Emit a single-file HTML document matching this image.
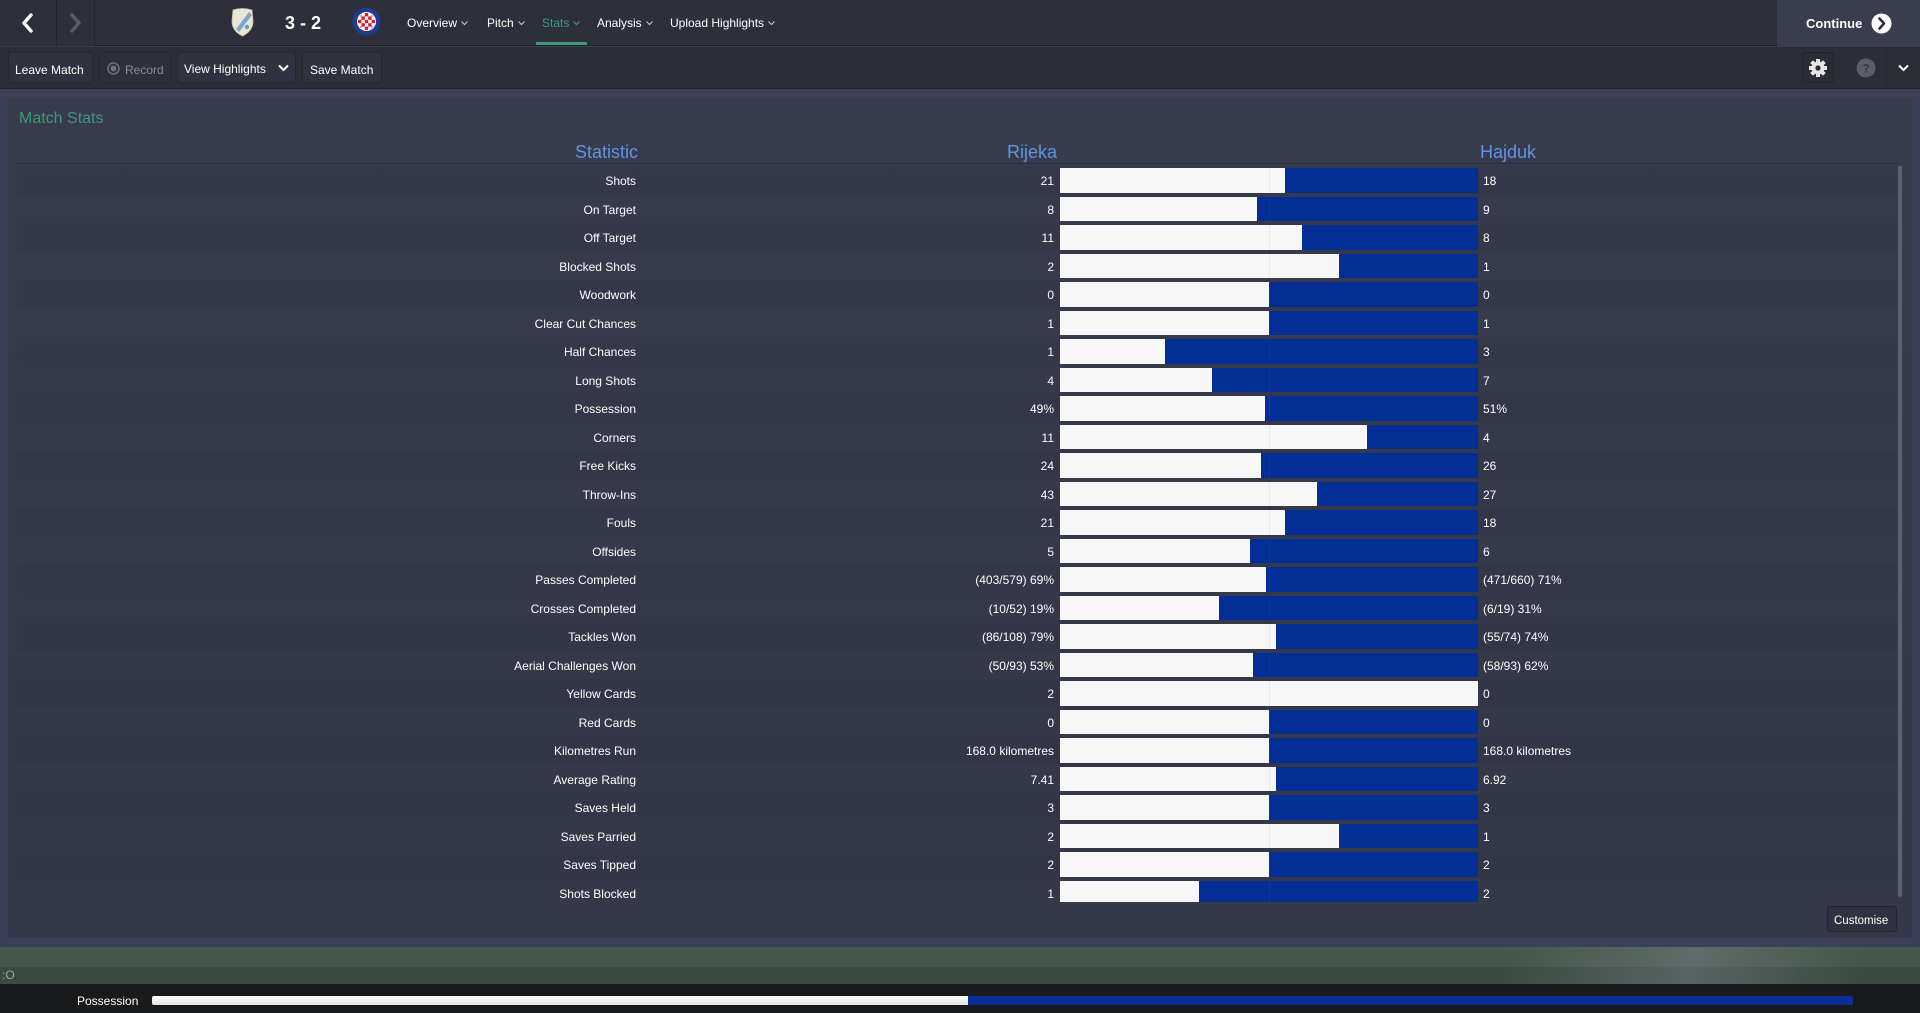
<!DOCTYPE html>
<html><head><meta charset="utf-8">
<style>
*{margin:0;padding:0;box-sizing:border-box}
html,body{width:1920px;height:1013px;overflow:hidden;background:#3b4058;font-family:"Liberation Sans",sans-serif;color:#fff}
.abs{position:absolute}
#top{left:0;top:0;width:1920px;height:46px;background:#2d2f3b;border-bottom:1px solid #1f2028}
#bar2{left:0;top:47px;width:1920px;height:42px;background:#2b2d37;border-bottom:1px solid #1f2129}
.nav{position:absolute;top:16px;font-size:12px;line-height:14px;color:#fff;white-space:nowrap}
.nav svg{margin-left:4px;vertical-align:1px}
.btn{position:absolute;top:52px;height:31px;background:#30333f;border:1px solid #262830;border-radius:3px;font-size:12px;line-height:14px;color:#fff;white-space:nowrap}
.btn span{position:absolute;top:10px}
#panel{left:8px;top:98px;width:1904px;height:840px;background:linear-gradient(180deg,#373b4d 0%,#353949 40%,#343848 100%);border-radius:3px}
.hdr{position:absolute;top:142px;font-size:18px;line-height:20px;color:#5f95e0;white-space:nowrap}
#rows{left:17px;top:166px;width:1881px;height:736px;overflow:hidden}
.row{position:relative;height:28.52px;width:1881px}
.row:nth-child(odd){background:rgba(0,0,0,0.025)}
.lab{position:absolute;right:1262px;top:8px;font-size:12px;line-height:14px;white-space:nowrap;text-align:right}
.v1{position:absolute;right:844px;top:8px;font-size:12px;line-height:14px;white-space:nowrap;text-align:right}
.v2{position:absolute;left:1466px;top:8px;font-size:12px;line-height:14px;white-space:nowrap}
.b{position:absolute;left:1043px;top:2px;width:418px;height:24.5px;background:#032e96}
.b i{position:absolute;left:0;top:0;height:100%;background:#f7f7f7;display:block}
.b b{position:absolute;left:209px;top:0;width:1px;height:100%;background:rgba(120,130,160,0.1);display:block}
</style></head><body>

<!-- top bar -->
<div id="top" class="abs"></div>
<div class="abs" style="left:0;top:0;width:95px;height:47px;background:#2d2f3b;border-bottom:1px solid #3a3c48"></div>
<div class="abs" style="left:56px;top:0;width:1px;height:46px;background:#23252e"></div>
<div class="abs" style="left:94px;top:0;width:1px;height:46px;background:#23252e"></div>
<svg class="abs" style="left:18px;top:12px" width="20" height="22"><polyline points="13,3 6,11 13,19" fill="none" stroke="#fff" stroke-width="3.4" stroke-linecap="round" stroke-linejoin="round"/></svg>
<svg class="abs" style="left:66px;top:12px" width="20" height="22"><polyline points="6,3 13,11 6,19" fill="none" stroke="#5a5c66" stroke-width="3.4" stroke-linecap="round" stroke-linejoin="round"/></svg>

<!-- Rijeka crest -->
<svg class="abs" style="left:230px;top:7px" width="25" height="30" viewBox="0 0 25 30">
<path d="M3,3 Q12,0 22,3 L23,14 Q23,24 12.5,29 Q2,24 2,14 Z" fill="#ebe6d3" stroke="#c9c2a6" stroke-width="0.8"/>
<path d="M6,22 L19,5 L22,8 L9,25 Z" fill="#7aa6cf"/>
<circle cx="17" cy="20" r="2.2" fill="#6b9bc8"/>
</svg>
<div class="abs" style="left:285px;top:12.5px;font-size:18px;line-height:20px;font-weight:bold;white-space:nowrap">3 - 2</div>
<!-- Hajduk crest -->
<svg class="abs" style="left:352px;top:7px" width="29" height="29" viewBox="0 0 29 29">
<circle cx="14.5" cy="14.5" r="14" fill="#1f3c8f"/>
<circle cx="14.5" cy="14.5" r="9.5" fill="#fff"/>
<clipPath id="cc"><circle cx="14.5" cy="14.5" r="8.5"/></clipPath>
<g clip-path="url(#cc)">
<rect x="5" y="5" width="19" height="19" fill="#fff"/>
<g fill="#d41f2b">
<rect x="6" y="6" width="3.4" height="3.4"/><rect x="12.8" y="6" width="3.4" height="3.4"/><rect x="19.6" y="6" width="3.4" height="3.4"/>
<rect x="9.4" y="9.4" width="3.4" height="3.4"/><rect x="16.2" y="9.4" width="3.4" height="3.4"/>
<rect x="6" y="12.8" width="3.4" height="3.4"/><rect x="12.8" y="12.8" width="3.4" height="3.4"/><rect x="19.6" y="12.8" width="3.4" height="3.4"/>
<rect x="9.4" y="16.2" width="3.4" height="3.4"/><rect x="16.2" y="16.2" width="3.4" height="3.4"/>
<rect x="6" y="19.6" width="3.4" height="3.4"/><rect x="12.8" y="19.6" width="3.4" height="3.4"/><rect x="19.6" y="19.6" width="3.4" height="3.4"/>
</g></g>
</svg>

<div class="nav" style="left:407px">Overview<svg width="7" height="5"><polyline points="0.5,0.5 3.5,3.5 6.5,0.5" fill="none" stroke="#ccc" stroke-width="1"/></svg></div>
<div class="nav" style="left:487px">Pitch<svg width="7" height="5"><polyline points="0.5,0.5 3.5,3.5 6.5,0.5" fill="none" stroke="#ccc" stroke-width="1"/></svg></div>
<div class="nav" style="left:542px;color:#3d9c7b">Stats<svg width="7" height="5"><polyline points="0.5,0.5 3.5,3.5 6.5,0.5" fill="none" stroke="#3d9c7b" stroke-width="1"/></svg></div>
<div class="abs" style="left:536px;top:42px;width:51px;height:3px;background:#3a9a78"></div>
<div class="nav" style="left:597px">Analysis<svg width="7" height="5"><polyline points="0.5,0.5 3.5,3.5 6.5,0.5" fill="none" stroke="#ccc" stroke-width="1"/></svg></div>
<div class="nav" style="left:670px">Upload Highlights<svg width="7" height="5"><polyline points="0.5,0.5 3.5,3.5 6.5,0.5" fill="none" stroke="#ccc" stroke-width="1"/></svg></div>

<!-- Continue -->
<div class="abs" style="left:1777px;top:0;width:143px;height:47px;background:#3a3d4c"></div>
<div class="abs" style="left:1806px;top:16.3px;font-size:13px;line-height:15px;font-weight:bold;white-space:nowrap">Continue</div>
<svg class="abs" style="left:1871px;top:13px" width="21" height="21"><circle cx="10.5" cy="10.5" r="10" fill="#fff"/><polyline points="8.5,5.5 13,10.5 8.5,15.5" fill="none" stroke="#2d2f3b" stroke-width="2.6" stroke-linecap="round" stroke-linejoin="round"/></svg>

<!-- second bar -->
<div id="bar2" class="abs"></div>
<div class="btn" style="left:8px;width:85px"><span style="left:6px">Leave Match</span></div>
<div class="btn" style="left:99px;width:72px;background:#2d3039;color:#8b8d95"><svg style="position:absolute;left:7px;top:9px" width="13" height="13"><circle cx="6.5" cy="6.5" r="5.5" fill="none" stroke="#6e717a" stroke-width="1.5"/><circle cx="6.5" cy="6.5" r="3" fill="#6e717a"/></svg><span style="left:25px">Record</span></div>
<div class="btn" style="left:177px;width:119px"><span style="left:6px;top:9px">View Highlights</span><svg style="position:absolute;left:100px;top:11px" width="11" height="8"><polyline points="1,1.5 5.5,6 10,1.5" fill="none" stroke="#fff" stroke-width="2"/></svg></div>
<div class="btn" style="left:302px;width:80px"><span style="left:7px">Save Match</span></div>

<div class="abs" style="left:1802px;top:52px;width:32px;height:31px;background:#2a2c35;border:1px solid #22242c;border-radius:3px"></div>
<svg class="abs" style="left:1808px;top:58px" width="20" height="20" viewBox="0 0 20 20">
<g fill="#e6e6e6" transform="translate(10,10)">
<rect x="-2" y="-9" width="4" height="18"/>
<rect x="-2" y="-9" width="4" height="18" transform="rotate(45)"/>
<rect x="-2" y="-9" width="4" height="18" transform="rotate(90)"/>
<rect x="-2" y="-9" width="4" height="18" transform="rotate(135)"/>
<circle r="6.5"/>
</g>
<circle cx="10" cy="10" r="2.6" fill="#2a2c35"/>
</svg>
<svg class="abs" style="left:1856px;top:58px" width="20" height="20"><circle cx="10" cy="10" r="9.5" fill="#5a5c67"/><text x="10" y="14.5" text-anchor="middle" font-family="Liberation Sans" font-weight="bold" font-size="12" fill="#393b45">?</text></svg>
<div class="abs" style="left:1886px;top:47px;width:1px;height:42px;background:#25272f"></div>
<svg class="abs" style="left:1898px;top:64px" width="11" height="8"><polyline points="1,1.5 5.5,6 10,1.5" fill="none" stroke="#fff" stroke-width="2"/></svg>

<!-- panel -->
<div id="panel" class="abs"></div>
<div class="abs" style="left:19px;top:109.5px;font-size:16px;line-height:18px;color:#3a9a78;white-space:nowrap">Match Stats</div>
<div class="hdr" style="right:1282px">Statistic</div>
<div class="hdr" style="right:863px">Rijeka</div>
<div class="hdr" style="left:1480px">Hajduk</div>
<div class="abs" style="left:17px;top:163px;width:1881px;height:1px;background:#2a2d3a"></div>

<div id="rows" class="abs" style="top:166px">
<div class="row"><div class="lab">Shots</div><div class="v1">21</div><div class="b"><i style="width:225.08px"></i><b></b></div><div class="v2">18</div></div>
<div class="row"><div class="lab">On Target</div><div class="v1">8</div><div class="b"><i style="width:196.71px"></i><b></b></div><div class="v2">9</div></div>
<div class="row"><div class="lab">Off Target</div><div class="v1">11</div><div class="b"><i style="width:242px"></i><b></b></div><div class="v2">8</div></div>
<div class="row"><div class="lab">Blocked Shots</div><div class="v1">2</div><div class="b"><i style="width:278.67px"></i><b></b></div><div class="v2">1</div></div>
<div class="row"><div class="lab">Woodwork</div><div class="v1">0</div><div class="b"><i style="width:209px"></i><b></b></div><div class="v2">0</div></div>
<div class="row"><div class="lab">Clear Cut Chances</div><div class="v1">1</div><div class="b"><i style="width:209px"></i><b></b></div><div class="v2">1</div></div>
<div class="row"><div class="lab">Half Chances</div><div class="v1">1</div><div class="b"><i style="width:104.5px"></i><b></b></div><div class="v2">3</div></div>
<div class="row"><div class="lab">Long Shots</div><div class="v1">4</div><div class="b"><i style="width:152px"></i><b></b></div><div class="v2">7</div></div>
<div class="row"><div class="lab">Possession</div><div class="v1">49%</div><div class="b"><i style="width:204.82px"></i><b></b></div><div class="v2">51%</div></div>
<div class="row"><div class="lab">Corners</div><div class="v1">11</div><div class="b"><i style="width:306.53px"></i><b></b></div><div class="v2">4</div></div>
<div class="row"><div class="lab">Free Kicks</div><div class="v1">24</div><div class="b"><i style="width:200.64px"></i><b></b></div><div class="v2">26</div></div>
<div class="row"><div class="lab">Throw-Ins</div><div class="v1">43</div><div class="b"><i style="width:256.77px"></i><b></b></div><div class="v2">27</div></div>
<div class="row"><div class="lab">Fouls</div><div class="v1">21</div><div class="b"><i style="width:225.08px"></i><b></b></div><div class="v2">18</div></div>
<div class="row"><div class="lab">Offsides</div><div class="v1">5</div><div class="b"><i style="width:190px"></i><b></b></div><div class="v2">6</div></div>
<div class="row"><div class="lab">Passes Completed</div><div class="v1">(403/579) 69%</div><div class="b"><i style="width:206px"></i><b></b></div><div class="v2">(471/660) 71%</div></div>
<div class="row"><div class="lab">Crosses Completed</div><div class="v1">(10/52) 19%</div><div class="b"><i style="width:158.84px"></i><b></b></div><div class="v2">(6/19) 31%</div></div>
<div class="row"><div class="lab">Tackles Won</div><div class="v1">(86/108) 79%</div><div class="b"><i style="width:215.83px"></i><b></b></div><div class="v2">(55/74) 74%</div></div>
<div class="row"><div class="lab">Aerial Challenges Won</div><div class="v1">(50/93) 53%</div><div class="b"><i style="width:192.64px"></i><b></b></div><div class="v2">(58/93) 62%</div></div>
<div class="row"><div class="lab">Yellow Cards</div><div class="v1">2</div><div class="b"><i style="width:418px"></i><b></b></div><div class="v2">0</div></div>
<div class="row"><div class="lab">Red Cards</div><div class="v1">0</div><div class="b"><i style="width:209px"></i><b></b></div><div class="v2">0</div></div>
<div class="row"><div class="lab">Kilometres Run</div><div class="v1">168.0 kilometres</div><div class="b"><i style="width:209px"></i><b></b></div><div class="v2">168.0 kilometres</div></div>
<div class="row"><div class="lab">Average Rating</div><div class="v1">7.41</div><div class="b"><i style="width:216.15px"></i><b></b></div><div class="v2">6.92</div></div>
<div class="row"><div class="lab">Saves Held</div><div class="v1">3</div><div class="b"><i style="width:209px"></i><b></b></div><div class="v2">3</div></div>
<div class="row"><div class="lab">Saves Parried</div><div class="v1">2</div><div class="b"><i style="width:278.67px"></i><b></b></div><div class="v2">1</div></div>
<div class="row"><div class="lab">Saves Tipped</div><div class="v1">2</div><div class="b"><i style="width:209px"></i><b></b></div><div class="v2">2</div></div>
<div class="row"><div class="lab">Shots Blocked</div><div class="v1">1</div><div class="b"><i style="width:139.33px"></i><b></b></div><div class="v2">2</div></div>
</div>

<!-- scrollbar -->
<div class="abs" style="left:1898px;top:166px;width:4px;height:731px;background:#5d616e;border-radius:2px"></div>

<!-- customise -->
<div class="abs" style="left:1827px;top:906px;width:70px;height:26px;background:#30333f;border:1px solid #24262e;border-radius:3px"></div>
<div class="abs" style="left:1834px;top:913.5px;font-size:11.5px;line-height:14px;white-space:nowrap">Customise</div>

<!-- pitch strip -->
<div class="abs" style="left:0;top:947px;width:1920px;height:20px;background:#43574a"></div>
<div class="abs" style="left:0;top:967px;width:1920px;height:17px;background:#3a4b41"></div>
<div class="abs" style="left:0;top:947px;width:1920px;height:37px;background:linear-gradient(100deg,rgba(0,0,0,0) 78%,rgba(140,150,165,0.35) 88%,rgba(0,0,0,0) 97%)"></div>
<div class="abs" style="left:2px;top:968px;font-size:12px;line-height:14px;color:#9ea4a6">:O</div>

<!-- bottom possession -->
<div class="abs" style="left:0;top:984px;width:1920px;height:29px;background:#191a1c"></div>
<div class="abs" style="left:77px;top:993.8px;font-size:12px;line-height:14px;white-space:nowrap">Possession</div>
<div class="abs" style="left:152px;top:996px;width:1701px;height:9px;background:#0a2f96;border-radius:2px"></div>
<div class="abs" style="left:152px;top:996px;width:816px;height:9px;background:linear-gradient(#ffffff,#e2e2e2);border-radius:2px 0 0 2px"></div>
</body></html>
